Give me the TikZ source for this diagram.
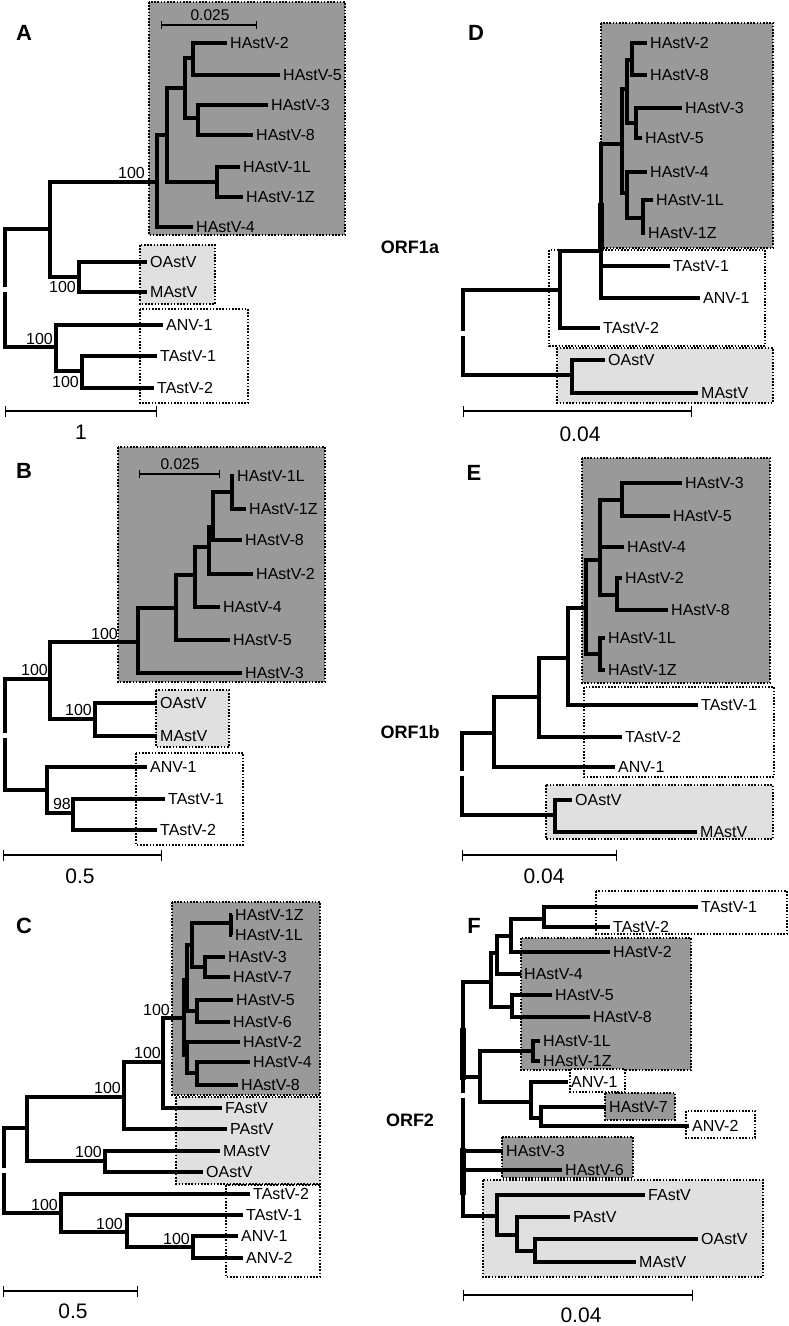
\documentclass[tikz,border=0pt]{standalone}
\usepackage{fontspec}
\setmainfont{Liberation Sans}
\usetikzlibrary{arrows.meta}
\definecolor{boxdark}{gray}{0.6}
\definecolor{boxlight}{gray}{0.88}
\newcommand\tipfont{\fontsize{16}{18}\selectfont}
\newcommand\panfont{\fontsize{22}{24}\selectfont\bfseries}
\newcommand\orffont{\fontsize{18}{20}\selectfont\bfseries}
\newcommand\barfont{\fontsize{21}{23}\selectfont}
\newcommand\subbarfont{\fontsize{15.5}{17}\selectfont}
\begin{document}
\begin{tikzpicture}
  [x=1pt,y=-1pt,
   br/.style={line width=3.4pt},
   rootbr/.style={br,shorten <=2.5pt},
   fat/.style={line width=5.5pt},
   tip/.style={anchor=west,inner sep=0pt,inner xsep=3pt,font=\tipfont},
   bs/.style={inner sep=0pt,font=\tipfont},
   panel/.style={font=\panfont},
   orf/.style={font=\orffont},
   dbox/.style={fill=boxdark,draw=black,line width=1.8pt,dash pattern=on 1.6pt off 1.6pt},
   lbox/.style={dbox,fill=boxlight},
   wbox/.style={dbox,fill=white},
   sbar/.style={line width=1.2pt,{Bar[width=11pt]}-{Bar[width=11pt]}},
   subbar/.style={line width=1.2pt,{Bar[width=8pt]}-{Bar[width=8pt]}}]
  \useasboundingbox (0,0) rectangle (788,1326);

  % ---------- A : ORF1a, ML
  \node[panel] (aLab) at (24,33) {A};
  \draw[dbox] (149,2) rectangle (345,235);
  \draw[lbox] (140,245) rectangle (215,304);
  \draw[wbox] (140,309) rectangle (248,403);
  \coordinate (aR) at (5,289);
  \coordinate (aU) at (50,229);
  \coordinate (aH) at (157,182);
  \coordinate (aH1) at (167,135);
  \coordinate (aH2) at (185,88);
  \coordinate (aH3) at (193,58);
  \coordinate (aH4) at (198,118);
  \coordinate (aH5) at (217,182);
  \coordinate (aOM) at (79,277);
  \coordinate (aL) at (56,347);
  \coordinate (aT) at (82,371);
  \node[tip] (aH2t) at (227,43) {HAstV-2};
  \node[tip] (aH5t) at (280,75) {HAstV-5};
  \node[tip] (aH3t) at (268,105) {HAstV-3};
  \node[tip] (aH8t) at (253,135) {HAstV-8};
  \node[tip] (aH1Lt) at (240,167) {HAstV-1L};
  \node[tip] (aH1Zt) at (243,197) {HAstV-1Z};
  \node[tip] (aH4t) at (193,227) {HAstV-4};
  \node[tip] (aOt) at (147,262) {OAstV};
  \node[tip] (aMt) at (147,292) {MAstV};
  \node[tip] (aA1t) at (163,325) {ANV-1};
  \node[tip] (aT1t) at (157,356) {TAstV-1};
  \node[tip] (aT2t) at (154,388) {TAstV-2};
  \draw[rootbr] (aR) |- (aU);
  \draw[rootbr] (aR) |- (aL);
  \foreach \p/\c in {aU/aH,aU/aOM,aH/aH1,aH/aH4t,aH1/aH2,aH1/aH5,aH2/aH3,aH2/aH4,
    aH3/aH2t,aH3/aH5t,aH4/aH3t,aH4/aH8t,aH5/aH1Lt,aH5/aH1Zt,aOM/aOt,aOM/aMt,
    aL/aA1t,aL/aT,aT/aT1t,aT/aT2t}
    \draw[br] (\p) |- (\c);
  \node[bs,anchor=south east] (aB1) at (145,179) {100};
  \node[bs,anchor=north east] (aB2) at (76,281) {100};
  \node[bs,anchor=south east] (aB3) at (53,345) {100};
  \node[bs,anchor=north east] (aB4) at (79,376) {100};
  \coordinate (aS1) at (5,411);
  \coordinate (aS2) at (157,411);
  \draw[sbar] (aS1) -- (aS2);
  \node[font=\barfont] (aSl) at (81,432) {1};
  \coordinate (aZ1) at (161,25);
  \coordinate (aZ2) at (257,25);
  \draw[subbar] (aZ1) -- (aZ2);
  \node[font=\subbarfont] (aZl) at (210,15) {0.025};

  % ---------- D : ORF1a, NJ
  \node[panel] (dLab) at (476,33) {D};
  \node[orf] (orf1a) at (410,247) {ORF1a};
  \draw[dbox] (601,23) rectangle (773,248);
  \draw[wbox] (549,250) rectangle (765,346);
  \draw[lbox] (557,348) rectangle (773,403);
  \coordinate (dR) at (463,333);
  \coordinate (dU) at (560,290);
  \coordinate (dN) at (601,251);
  \coordinate (dK) at (601,203);
  \coordinate (dH) at (622,144);
  \coordinate (dH1) at (627,89);
  \coordinate (dH28) at (632,60);
  \coordinate (dH35) at (636,123);
  \coordinate (dH2) at (627,193);
  \coordinate (dLZ) at (643,218);
  \coordinate (dL) at (572,375);
  \node[tip] (dH2t) at (647,43) {HAstV-2};
  \node[tip] (dH8t) at (647,75) {HAstV-8};
  \node[tip] (dH3t) at (682,108) {HAstV-3};
  \node[tip] (dH5t) at (642,138) {HAstV-5};
  \node[tip] (dH4t) at (647,172) {HAstV-4};
  \node[tip] (dH1Lt) at (653,200) {HAstV-1L};
  \node[tip] (dH1Zt) at (645,233) {HAstV-1Z};
  \node[tip] (dT1t) at (670,266) {TAstV-1};
  \node[tip] (dA1t) at (700,298) {ANV-1};
  \node[tip] (dT2t) at (600,328) {TAstV-2};
  \node[tip] (dOt) at (605,360) {OAstV};
  \node[tip] (dMt) at (698,393) {MAstV};
  \draw[rootbr] (dR) |- (dU);
  \draw[rootbr] (dR) |- (dL);
  \foreach \p/\c in {dU/dN,dU/dT2t,dN/dH,dN/dT1t,dN/dA1t,dH/dH1,dH/dH2,dH1/dH28,dH1/dH35,
    dH28/dH2t,dH28/dH8t,dH35/dH3t,dH35/dH5t,dH2/dH4t,dH2/dLZ,dLZ/dH1Lt,dLZ/dH1Zt,
    dL/dOt,dL/dMt}
    \draw[br] (\p) |- (\c);
  \draw[fat] (dK) -- (dN);
  \coordinate (dS1) at (463,411);
  \coordinate (dS2) at (692,411);
  \draw[sbar] (dS1) -- (dS2);
  \node[font=\barfont] (dSl) at (580,434) {0.04};

  % ---------- B : ORF1b, ML
  \node[panel] (bLab) at (24,471) {B};
  \draw[dbox] (118,447) rectangle (325,682);
  \draw[lbox] (156,690) rectangle (229,747);
  \draw[wbox] (136,753) rectangle (243,845);
  \coordinate (bR) at (5,735);
  \coordinate (bU) at (50,679);
  \coordinate (bH) at (138,642);
  \coordinate (bH1) at (176,608);
  \coordinate (bH2) at (195,575);
  \coordinate (bH3) at (209,547);
  \coordinate (bH4) at (213,527);
  \coordinate (bH5) at (232,492);
  \coordinate (bOM) at (95,719);
  \coordinate (bL) at (47,790);
  \coordinate (bT) at (73,813);
  \node[tip] (bH1Lt) at (234,476) {HAstV-1L};
  \node[tip] (bH1Zt) at (246,509) {HAstV-1Z};
  \node[tip] (bH8t) at (242,540) {HAstV-8};
  \node[tip] (bH2t) at (253,574) {HAstV-2};
  \node[tip] (bH4t) at (220,607) {HAstV-4};
  \node[tip] (bH5t) at (230,640) {HAstV-5};
  \node[tip] (bH3t) at (242,673) {HAstV-3};
  \node[tip] (bOt) at (157,703) {OAstV};
  \node[tip] (bMt) at (157,736) {MAstV};
  \node[tip] (bA1t) at (147,767) {ANV-1};
  \node[tip] (bT1t) at (165,799) {TAstV-1};
  \node[tip] (bT2t) at (157,830) {TAstV-2};
  \draw[rootbr] (bR) |- (bU);
  \draw[rootbr] (bR) |- (bL);
  \foreach \p/\c in {bU/bH,bU/bOM,bH/bH1,bH/bH3t,bH1/bH2,bH1/bH5t,bH2/bH3,bH2/bH4t,
    bH3/bH4,bH3/bH2t,bH4/bH5,bH4/bH8t,bH5/bH1Lt,bH5/bH1Zt,bOM/bOt,bOM/bMt,
    bL/bA1t,bL/bT,bT/bT1t,bT/bT2t}
    \draw[br] (\p) |- (\c);
  \node[bs,anchor=south east] (bB1) at (118,640) {100};
  \node[bs,anchor=south east] (bB2) at (48,676) {100};
  \node[bs,anchor=south east] (bB3) at (92,716) {100};
  \node[bs,anchor=south east] (bB4) at (71,810) {98};
  \coordinate (bS1) at (3,855);
  \coordinate (bS2) at (162,855);
  \draw[sbar] (bS1) -- (bS2);
  \node[font=\barfont] (bSl) at (80,876) {0.5};
  \coordinate (bZ1) at (139,474);
  \coordinate (bZ2) at (220,474);
  \draw[subbar] (bZ1) -- (bZ2);
  \node[font=\subbarfont] (bZl) at (180,464) {0.025};

  % ---------- E : ORF1b, NJ
  \node[panel] (eLab) at (474,473) {E};
  \node[orf] (orf1b) at (410,732) {ORF1b};
  \draw[dbox] (582,458) rectangle (770,683);
  \draw[wbox] (584,687) rectangle (774,777);
  \draw[lbox] (546,785) rectangle (773,839);
  \coordinate (eR) at (462,773);
  \coordinate (eU) at (494,733);
  \coordinate (e2) at (539,697);
  \coordinate (e3) at (568,658);
  \coordinate (eH) at (586,608);
  \coordinate (eH1) at (600,560);
  \coordinate (eH35) at (622,500);
  \coordinate (eH28) at (617,595);
  \coordinate (eLZ) at (600,654);
  \coordinate (eL) at (555,815);
  \node[tip] (eH3t) at (682,483) {HAstV-3};
  \node[tip] (eH5t) at (670,516) {HAstV-5};
  \node[tip] (eH4t) at (624,547) {HAstV-4};
  \node[tip] (eH2t) at (622,578) {HAstV-2};
  \node[tip] (eH8t) at (668,610) {HAstV-8};
  \node[tip] (eH1Lt) at (605,638) {HAstV-1L};
  \node[tip] (eH1Zt) at (605,670) {HAstV-1Z};
  \node[tip] (eT1t) at (698,705) {TAstV-1};
  \node[tip] (eT2t) at (622,737) {TAstV-2};
  \node[tip] (eA1t) at (615,767) {ANV-1};
  \node[tip] (eOt) at (572,800) {OAstV};
  \node[tip] (eMt) at (697,832) {MAstV};
  \draw[rootbr] (eR) |- (eU);
  \draw[rootbr] (eR) |- (eL);
  \foreach \p/\c in {eU/e2,eU/eA1t,e2/e3,e2/eT2t,e3/eH,e3/eT1t,eH/eH1,eH/eLZ,
    eH1/eH35,eH1/eH4t,eH1/eH28,eH35/eH3t,eH35/eH5t,eH28/eH2t,eH28/eH8t,
    eLZ/eH1Lt,eLZ/eH1Zt,eL/eOt,eL/eMt}
    \draw[br] (\p) |- (\c);
  \coordinate (eS1) at (462,855);
  \coordinate (eS2) at (617,855);
  \draw[sbar] (eS1) -- (eS2);
  \node[font=\barfont] (eSl) at (544,876) {0.04};

  % ---------- C : ORF2, ML
  \node[panel] (cLab) at (24,926) {C};
  \draw[dbox] (172,902) rectangle (320,1095);
  \draw[lbox] (176,1097) rectangle (320,1184);
  \draw[wbox] (226,1185) rectangle (320,1277);
  \coordinate (cR) at (4,1170);
  \coordinate (cU) at (27,1128);
  \coordinate (cOM) at (105,1161);
  \coordinate (cP) at (124,1097);
  \coordinate (cF) at (163,1062);
  \coordinate (cH) at (184,1018);
  \coordinate (cHu) at (187,980);
  \coordinate (cHa) at (192,945);
  \coordinate (cHz) at (231,923);
  \coordinate (cH37) at (205,967);
  \coordinate (cH56) at (197,1011);
  \coordinate (cHl) at (187,1055);
  \coordinate (cH48) at (197,1073);
  \coordinate (cL) at (61,1213);
  \coordinate (cT) at (127,1232);
  \coordinate (cA) at (193,1247);
  \node[tip] (cH1Zt) at (232,915) {HAstV-1Z};
  \node[tip] (cH1Lt) at (232,935) {HAstV-1L};
  \node[tip] (cH3t) at (225,957) {HAstV-3};
  \node[tip] (cH7t) at (230,977) {HAstV-7};
  \node[tip] (cH5t) at (233,1000) {HAstV-5};
  \node[tip] (cH6t) at (230,1022) {HAstV-6};
  \node[tip] (cH2t) at (240,1042) {HAstV-2};
  \node[tip] (cH4t) at (250,1062) {HAstV-4};
  \node[tip] (cH8t) at (238,1085) {HAstV-8};
  \node[tip] (cFt) at (222,1108) {FAstV};
  \node[tip] (cPt) at (227,1129) {PAstV};
  \node[tip] (cMt) at (220,1151) {MAstV};
  \node[tip] (cOt) at (203,1172) {OAstV};
  \node[tip] (cT2t) at (250,1194) {TAstV-2};
  \node[tip] (cT1t) at (243,1215) {TAstV-1};
  \node[tip] (cA1t) at (238,1236) {ANV-1};
  \node[tip] (cA2t) at (243,1258) {ANV-2};
  \draw[rootbr] (cR) |- (cU);
  \draw[rootbr] (cR) |- (cL);
  \foreach \p/\c in {cU/cP,cU/cOM,cP/cF,cP/cPt,cF/cH,cF/cFt,cH/cHu,cH/cHl,
    cHu/cHa,cHu/cH56,cHa/cHz,cHa/cH37,cHz/cH1Zt,cHz/cH1Lt,cH37/cH3t,cH37/cH7t,
    cH56/cH5t,cH56/cH6t,cHl/cH2t,cHl/cH48,cH48/cH4t,cH48/cH8t,cOM/cMt,cOM/cOt,
    cL/cT2t,cL/cT,cT/cT1t,cT/cA,cA/cA1t,cA/cA2t}
    \draw[br] (\p) |- (\c);
  \node[bs,anchor=south east] (cB1) at (170,1016) {100};
  \node[bs,anchor=south east] (cB2) at (161,1059) {100};
  \node[bs,anchor=south east] (cB3) at (121,1094) {100};
  \node[bs,anchor=south east] (cB4) at (102,1158) {100};
  \node[bs,anchor=south east] (cB5) at (58,1211) {100};
  \node[bs,anchor=south east] (cB6) at (123,1230) {100};
  \node[bs,anchor=south east] (cB7) at (190,1245) {100};
  \coordinate (cS1) at (3,1291);
  \coordinate (cS2) at (138,1291);
  \draw[sbar] (cS1) -- (cS2);
  \node[font=\barfont] (cSl) at (73,1311) {0.5};

  % ---------- F : ORF2, NJ
  \node[panel] (fLab) at (474,926) {F};
  \node[orf] (orf2) at (410,1120) {ORF2};
  \draw[wbox] (596,891) rectangle (787,934);
  \draw[dbox] (521,938) rectangle (691,1070);
  \draw[wbox] (570,1069) rectangle (625,1092);
  \draw[dbox] (605,1093) rectangle (675,1120);
  \draw[wbox] (686,1111) rectangle (755,1138);
  \draw[dbox] (502,1137) rectangle (633,1178);
  \draw[lbox] (483,1180) rectangle (763,1277);
  \coordinate (fR) at (463,1095);
  \coordinate (fU) at (491,982);
  \coordinate (f1) at (497,953);
  \coordinate (f2) at (511,936);
  \coordinate (fT) at (544,919);
  \coordinate (f58) at (512,1007);
  \coordinate (fM) at (480,1077);
  \coordinate (fLZ) at (533,1051);
  \coordinate (fA) at (531,1102);
  \coordinate (fA2) at (541,1118);
  \coordinate (fL) at (497,1216);
  \coordinate (fP) at (517,1235);
  \coordinate (fOM) at (535,1251);
  \coordinate (fK1) at (463,1028);
  \coordinate (fK2) at (463,1080);
  \coordinate (fK3) at (463,1148);
  \coordinate (fK4) at (463,1195);
  \node[tip] (fT1t) at (698,907) {TAstV-1};
  \node[tip] (fT2t) at (610,927) {TAstV-2};
  \node[tip] (fH2t) at (610,952) {HAstV-2};
  \node[tip] (fH4t) at (521,974) {HAstV-4};
  \node[tip] (fH5t) at (552,995) {HAstV-5};
  \node[tip] (fH8t) at (590,1017) {HAstV-8};
  \node[tip] (fH1Lt) at (540,1041) {HAstV-1L};
  \node[tip] (fH1Zt) at (540,1061) {HAstV-1Z};
  \node[tip] (fA1t) at (568,1082) {ANV-1};
  \node[tip] (fH7t) at (606,1107) {HAstV-7};
  \node[tip] (fA2t) at (689,1126) {ANV-2};
  \node[tip] (fH3t) at (503,1151) {HAstV-3};
  \node[tip] (fH6t) at (562,1170) {HAstV-6};
  \node[tip] (fFt) at (645,1195) {FAstV};
  \node[tip] (fPt) at (570,1217) {PAstV};
  \node[tip] (fOt) at (698,1239) {OAstV};
  \node[tip] (fMt) at (636,1262) {MAstV};
  \foreach \c in {fU,fM,fH3t,fH6t,fL}
    \draw[rootbr] (fR) |- (\c);
  \foreach \p/\c in {fU/f1,fU/f58,f1/f2,f1/fH4t,f2/fT,f2/fH2t,fT/fT1t,fT/fT2t,
    f58/fH5t,f58/fH8t,fM/fLZ,fM/fA,fLZ/fH1Lt,fLZ/fH1Zt,fA/fA1t,fA/fA2,
    fA2/fH7t,fA2/fA2t,fL/fFt,fL/fP,fP/fPt,fP/fOM,fOM/fOt,fOM/fMt}
    \draw[br] (\p) |- (\c);
  \draw[fat] (fK1) -- (fK2);
  \draw[fat] (fK3) -- (fK4);
  \coordinate (fS1) at (463,1295);
  \coordinate (fS2) at (693,1295);
  \draw[sbar] (fS1) -- (fS2);
  \node[font=\barfont] (fSl) at (581,1315) {0.04};
\end{tikzpicture}
\end{document}
